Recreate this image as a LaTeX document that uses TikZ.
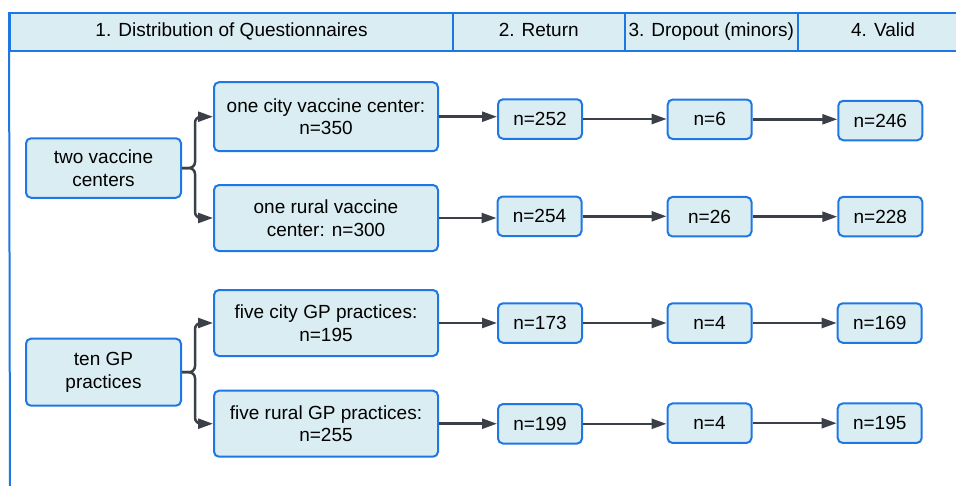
\documentclass[tikz,border=0pt]{standalone}
\usepackage{fontspec}
\setmainfont{Liberation Sans}
\usetikzlibrary{arrows.meta}
\definecolor{boxfill}{HTML}{DAEDF3}
\definecolor{boxline}{HTML}{1F77E3}
\definecolor{arr}{HTML}{3B4048}
\begin{document}
\begin{tikzpicture}[x=1pt,y=-1pt,
  txt/.style={font=\fontsize{19}{22.7}\selectfont},
  box/.style={txt, draw=boxline, fill=boxfill, line width=2pt, rounded corners=5pt, align=center, inner sep=0pt},
  hcell/.style={txt, draw=boxline, fill=boxfill, line width=2pt, inner sep=0pt, minimum height=38pt, text height=14pt, text depth=5pt},
  conn/.style={draw=arr, line width=2.5pt, -{Triangle[length=15pt,width=10pt]}},
  small/.style={box, minimum width=84pt, minimum height=39.5pt},
  mid/.style={box, minimum width=224pt, minimum height=66pt},
  src/.style={box, minimum width=155pt},
]
\useasboundingbox (0,0) rectangle (956,485);
\clip (0,0) rectangle (956,485);
% header
\node[hcell, minimum width=443pt] (h1) at (231.5,32) {1. Distribution of Questionnaires};
\node[hcell, minimum width=171.5pt] (h2) at (538.75,32) {2. Return};
\node[hcell, minimum width=173.5pt] (h3) at (711.25,32) {3. Dropout (minors)};
\node[hcell, minimum width=170pt] (h4) at (883,32) {4. Valid};
\coordinate (lb) at (10,492);
\draw[boxline, line width=2pt] (h1.north west) -- (lb);
% group 1
\node[src, minimum height=59.5pt] (two) at (103.5,168) {two vaccine\\centers};
\node[mid, minimum height=69pt] (city) at (326,116.7) {one city vaccine center:\\n=350};
\node[mid] (rural) at (326,218) {one rural vaccine\\center: n=300};
\node[small] (r1) at (540,119) {n=252};
\node[small] (d1) at (709.7,119.3) {n=6};
\node[small] (v1) at (880.3,120.5) {n=246};
\node[small] (r2) at (539.5,216.3) {n=254};
\node[small] (d2) at (709.5,216.7) {n=26};
\node[small] (v2) at (880.3,216.5) {n=228};
% group 2
\node[src, minimum height=67pt] (ten) at (103.5,372.2) {ten GP\\practices};
\node[mid] (fcity) at (326,323) {five city GP practices:\\n=195};
\node[mid] (frural) at (326,423.7) {five rural GP practices:\\n=255};
\node[small] (r3) at (540,323) {n=173};
\node[small] (d3) at (709.5,323) {n=4};
\node[small] (v3) at (879.7,323) {n=169};
\node[small] (r4) at (540,423.8) {n=199};
\node[small] (d4) at (709.5,423.2) {n=4};
\node[small] (v4) at (879.7,423.2) {n=195};
% brackets
\draw[conn, rounded corners=6pt] (two.east) -| ([xshift=-18pt]city.west) -- (city.west);
\draw[conn, rounded corners=6pt] (two.east) -| ([xshift=-18pt]rural.west) -- (rural.west);
\draw[conn, rounded corners=6pt] (ten.east) -| ([xshift=-18pt]fcity.west) -- (fcity.west);
\draw[conn, rounded corners=6pt] (ten.east) -| ([xshift=-18pt]frural.west) -- (frural.west);
% rows
\draw[conn] (city.east) -- (city.east -| r1.west);
\draw[conn] (r1.east) -- (r1.east -| d1.west);
\draw[conn] (d1.east) -- (d1.east -| v1.west);
\draw[conn] (rural.east) -- (rural.east -| r2.west);
\draw[conn] (r2.east) -- (r2.east -| d2.west);
\draw[conn] (d2.east) -- (d2.east -| v2.west);
\draw[conn] (fcity.east) -- (fcity.east -| r3.west);
\draw[conn] (r3.east) -- (r3.east -| d3.west);
\draw[conn] (d3.east) -- (d3.east -| v3.west);
\draw[conn] (frural.east) -- (frural.east -| r4.west);
\draw[conn] (r4.east) -- (r4.east -| d4.west);
\draw[conn] (d4.east) -- (d4.east -| v4.west);
\end{tikzpicture}
\end{document}
